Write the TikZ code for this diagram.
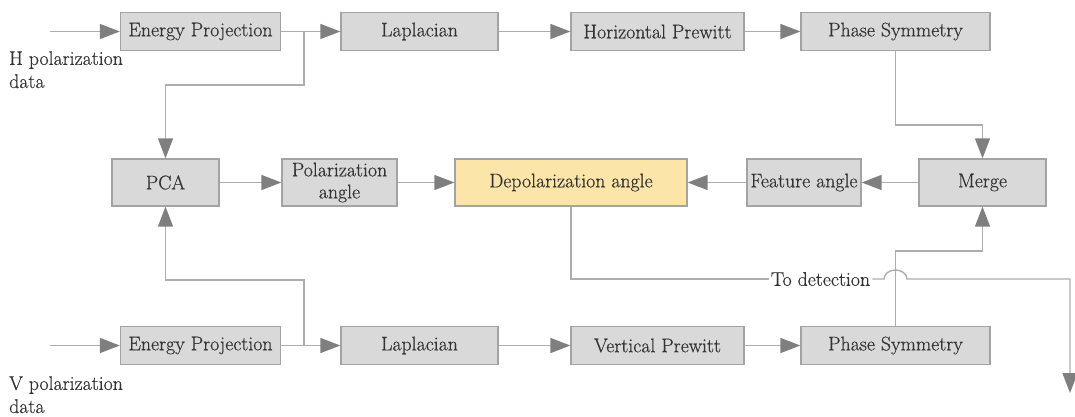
\documentclass[tikz,border=0pt]{standalone}
\usepackage{fontspec}
\newfontfamily\boxface{Latin Modern Roman}[FakeBold=0.5]
\usetikzlibrary{arrows.meta}
\definecolor{boxfill}{HTML}{D9D9D9}
\definecolor{boxline}{HTML}{A3A3A3}
\definecolor{wirecol}{HTML}{ADADAD}
\definecolor{tipgray}{HTML}{7F7F7F}
\definecolor{txt}{HTML}{333333}
\definecolor{hl}{HTML}{FCE5A8}
\begin{document}
\begin{tikzpicture}[x=1pt,y=1pt,
  blk/.style={draw=boxline, fill=boxfill, line width=1.3pt, text=txt, inner sep=0pt,
              minimum height=38pt, font=\boxface\fontsize{19.8}{22}\selectfont},
  mid/.style={blk, minimum height=47pt, align=center},
  lbl/.style={text=txt, font=\boxface\fontsize{19.8}{23}\selectfont},
  wire/.style={draw=wirecol, line width=1.4pt},
  arr/.style={wire, -{Triangle[length=20pt,width=15pt,color=tipgray]}}]
\useasboundingbox (0,0) rectangle (1075,-417);

% top chain (H polarization)
\node[blk, minimum width=160pt] (ep1)  at (200.5,-31.5) {Energy Projection};
\node[blk, minimum width=157pt] (lap1) at (419.5,-31.5) {Laplacian};
\node[blk, minimum width=173pt] (hp)   at (657.5,-31.5) {Horizontal Prewitt};
\node[blk, minimum width=189pt] (ps1)  at (895.5,-31.5) {Phase Symmetry};

% middle row
\node[mid, minimum width=107pt] (pca)   at (165.5,-182.5) {PCA};
\node[mid, minimum width=115pt] (pol)   at (339.5,-182.5) {Polarization\\angle};
\node[mid, minimum width=232pt, fill=hl] (depol) at (571,-182.5) {Depolarization angle};
\node[mid, minimum width=114pt] (feat)  at (804,-182.5) {Feature angle};
\node[mid, minimum width=127pt] (merge) at (982.5,-182.5) {Merge};

% bottom chain (V polarization)
\node[blk, minimum width=160pt] (ep2)  at (200.5,-345.5) {Energy Projection};
\node[blk, minimum width=157pt] (lap2) at (419.5,-345.5) {Laplacian};
\node[blk, minimum width=173pt] (vp)   at (657.5,-345.5) {Vertical Prewitt};
\node[blk, minimum width=189pt] (ps2)  at (895.5,-345.5) {Phase Symmetry};

% input labels
\node[lbl, anchor=north west, align=left, inner sep=0pt] (hlab) at (9,-51) {H polarization\\data};
\node[lbl, anchor=north west, align=left, inner sep=0pt] (vlab) at (9,-376) {V polarization\\data};

% inputs
\coordinate (hin) at (50,-31.5);
\coordinate (vin) at (50,-345.5);
\draw[arr] (hin) -- (ep1.west);
\draw[arr] (vin) -- (ep2.west);

% horizontal chains
\draw[arr] (ep1.east) -- (lap1.west);
\draw[arr] (lap1.east) -- (hp.west);
\draw[arr] (hp.east) -- (ps1.west);
\draw[arr] (ep2.east) -- (lap2.west);
\draw[arr] (lap2.east) -- (vp.west);
\draw[arr] (vp.east) -- (ps2.west);

% branches into PCA
\coordinate (b1) at (304,-31.5);
\coordinate (k1) at (304,-85);
\draw[arr] (b1) -- (k1) -| (pca.north);
\coordinate (b2) at (304,-345.5);
\coordinate (k2) at (304,-280);
\draw[arr] (b2) -- (k2) -| (pca.south);

% phase symmetry into merge
\coordinate (k3) at (895.5,-125);
\draw[arr] (ps1.south) -- (k3) -| (merge.north);
\coordinate (k4) at (895.5,-251);
\draw[arr] (ps2.north) -- (k4) -| (merge.south);

% middle row flow
\draw[arr] (pca.east) -- (pol.west);
\draw[arr] (pol.east) -- (depol.west);
\draw[arr] (merge.west) -- (feat.east);
\draw[arr] (feat.west) -- (depol.east);

% output to detection, hopping over the merge feed
\node[lbl, fill=white, inner sep=2pt] (todet) at (820.5,-279) {To detection};
\coordinate (hopL) at (884,-279);
\coordinate (turn) at (1070,-279);
\coordinate (det)  at (1070,-393);
\draw[wire] (depol.south) |- (todet.west);
\draw[arr] (todet.east) -- (hopL)
  arc[start angle=180, end angle=0, x radius=11.5pt, y radius=9pt]
  -- (turn) -- (det);
\end{tikzpicture}
\end{document}
